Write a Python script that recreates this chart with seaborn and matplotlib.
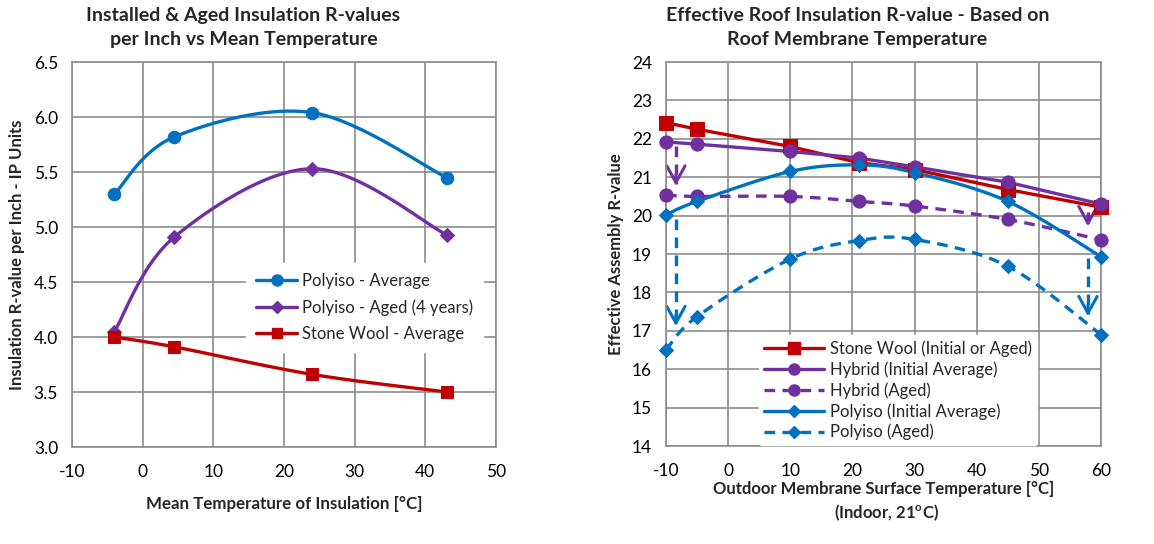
import numpy as np
import pandas as pd
import matplotlib
matplotlib.use("Agg")
import matplotlib.pyplot as plt
from matplotlib.lines import Line2D
import seaborn as sns

# ---------------- data ----------------
left_temp = [-4, 4.5, 24, 43]
polyiso_avg = [5.30, 5.82, 6.04, 5.45]
polyiso_aged4 = [4.05, 4.91, 5.53, 4.93]
stonewool_avg = [4.00, 3.91, 3.66, 3.50]

right_temp = [-10, -5, 10, 21, 30, 45, 60]
stonewool_r = [22.42, 22.25, 21.80, 21.38, 21.20, 20.68, 20.22]
hybrid_init = [21.92, 21.86, 21.67, 21.50, 21.27, 20.87, 20.30]
hybrid_aged = [20.53, 20.50, 20.50, 20.37, 20.25, 19.90, 19.37]
polyiso_init = [20.02, 20.37, 21.15, 21.32, 21.12, 20.37, 18.93]
polyiso_aged = [16.50, 17.37, 18.87, 19.35, 19.38, 18.68, 16.90]

BLUE = "#0070C0"
PURPLE = "#7030A0"
RED = "#C00000"
GRID = "#8C8C8C"

sns.set_theme(style="white")
plt.rcParams['font.family'] = ['Lato', 'DejaVu Sans']
plt.rcParams['axes.unicode_minus'] = False
plt.rcParams['mathtext.fontset'] = 'custom'
plt.rcParams['mathtext.bf'] = 'Lato:bold'
plt.rcParams['mathtext.rm'] = 'Lato'


def smooth(x, y, xlim, ylim, n=40):
    """Excel-like Catmull-Rom smoothing computed in axes-fraction space."""
    x = np.asarray(x, float); y = np.asarray(y, float)
    u = (x - xlim[0]) / (xlim[1] - xlim[0])
    v = (y - ylim[0]) / (ylim[1] - ylim[0])
    P = np.column_stack([u, v])
    P = np.vstack([P[0], P, P[-1]])
    out = []
    for i in range(1, len(P) - 2):
        p0, p1, p2, p3 = P[i - 1], P[i], P[i + 1], P[i + 2]
        c1 = p1 + (p2 - p0) / 6.0
        c2 = p2 - (p3 - p1) / 6.0
        t = np.linspace(0, 1, n)[:, None]
        seg = ((1 - t) ** 3) * p1 + 3 * ((1 - t) ** 2) * t * c1 + 3 * (1 - t) * t ** 2 * c2 + t ** 3 * p2
        out.append(seg if i == 1 else seg[1:])
    S = np.vstack(out)
    return S[:, 0] * (xlim[1] - xlim[0]) + xlim[0], S[:, 1] * (ylim[1] - ylim[0]) + ylim[0]


fig = plt.figure(figsize=(11.54, 5.44), dpi=100)
axL = fig.add_axes([0.0624, 0.1783, 0.3674, 0.7077])
axR = fig.add_axes([0.5771, 0.1801, 0.3770, 0.7059])

for ax in (axL, axR):
    ax.grid(True, color=GRID, linewidth=1.2)
    for s in ax.spines.values():
        s.set_color(GRID)
        s.set_linewidth(1.2)
    ax.tick_params(axis='both', labelsize=12.5, colors='black', length=0)
    ax.tick_params(axis='x', pad=12)
    ax.tick_params(axis='y', pad=10)
    ax.set_axisbelow(True)

# ---------------- left chart ----------------
xlimL, ylimL = (-10, 50), (3.0, 6.5)
axL.set_xlim(*xlimL); axL.set_ylim(*ylimL)
axL.set_xticks(np.arange(-10, 51, 10))
axL.set_yticks(np.arange(3.0, 6.51, 0.5))
axL.set_yticklabels([f"{v:.1f}" for v in np.arange(3.0, 6.51, 0.5)])

left_series = [
    ("Polyiso - Average", polyiso_avg, BLUE, "o", 9),
    ("Polyiso - Aged (4 years)", polyiso_aged4, PURPLE, "D", 7),
    ("Stone Wool - Average", stonewool_avg, RED, "s", 8.5),
]
handlesL = []
for lab, vals, col, mk, ms in left_series:
    sx, sy = smooth(left_temp, vals, xlimL, ylimL)
    axL.plot(sx, sy, color=col, lw=2.4, zorder=3)
    df = pd.DataFrame({"x": left_temp, "y": vals})
    sns.lineplot(data=df, x="x", y="y", ax=axL, color=col, marker=mk, markersize=ms,
                 linestyle="none", markeredgecolor=col, zorder=4, legend=False)
    handlesL.append(Line2D([], [], color=col, lw=2.4, marker=mk, markersize=ms - 1, markeredgecolor=col))
axL.set_xlabel("Mean Temperature of Insulation [°C]", fontsize=12.2, fontweight='bold', labelpad=12)
axL.set_ylabel("Insulation R-value per Inch - IP Units", fontsize=12, fontweight='bold', labelpad=6)
legL = axL.legend(handlesL, [s[0] for s in left_series], loc='upper left',
                  bbox_to_anchor=(0.39, 0.50), frameon=True, fontsize=12,
                  handlelength=2.5, labelspacing=0.62, borderpad=0.6, handletextpad=0.3)
legL.get_frame().set_facecolor('white'); legL.get_frame().set_edgecolor('white')
legL.get_frame().set_alpha(1)

fig.text(0.211, 0.988, "Installed & Aged Insulation R-values\nper Inch vs Mean Temperature",
         ha='center', va='top', fontsize=14, fontweight='bold', linespacing=1.55)

# ---------------- right chart ----------------
xlimR, ylimR = (-10, 60), (14, 24)
axR.set_xlim(*xlimR); axR.set_ylim(*ylimR)
axR.set_xticks(np.arange(-10, 61, 10))
axR.set_yticks(np.arange(14, 25, 1))

DASH = (3.2, 2.2)
right_series = [
    ("Stone Wool (Initial or Aged)", stonewool_r, RED, "s", 9.5, "-", False),
    ("Hybrid (Initial Average)", hybrid_init, PURPLE, "o", 9.5, "-", False),
    ("Hybrid (Aged)", hybrid_aged, PURPLE, "o", 9.5, "--", True),
    ("Polyiso (Initial Average)", polyiso_init, BLUE, "D", 7.5, "-", True),
    ("Polyiso (Aged)", polyiso_aged, BLUE, "D", 7.5, "--", True),
]
handlesR = []
for lab, vals, col, mk, ms, ls, sm in right_series:
    if sm:
        sx, sy = smooth(right_temp, vals, xlimR, ylimR)
    else:
        sx, sy = right_temp, vals
    line, = axR.plot(sx, sy, color=col, lw=2.4, zorder=3, clip_on=False)
    if ls == "--":
        line.set_dashes(DASH)
    df = pd.DataFrame({"x": right_temp, "y": vals})
    sns.lineplot(data=df, x="x", y="y", ax=axR, color=col, marker=mk, markersize=ms,
                 linestyle="none", markeredgecolor=col, zorder=4, legend=False, clip_on=False)
    h = Line2D([], [], color=col, lw=2.4, marker=mk, markersize=ms - 1.5, markeredgecolor=col)
    if ls == "--":
        h.set_dashes(DASH)
    handlesR.append(h)

# ageing arrows: dashed shaft + open solid head
arrows = [(-8.4, 21.8, 20.78, PURPLE), (57.9, 20.1, 19.72, PURPLE),
          (-8.4, 19.9, 17.12, BLUE), (57.9, 18.9, 17.38, BLUE)]
for ax_x, y0, y1, col in arrows:
    shaft, = axR.plot([ax_x, ax_x], [y0, y1 + 0.05], color=col, lw=2.4, zorder=2)
    shaft.set_dashes(DASH)
    axR.annotate("", xy=(ax_x, y1), xytext=(ax_x, y1 + 0.3),
                 arrowprops=dict(arrowstyle="->,head_length=1.0,head_width=0.55", color=col,
                                 lw=2.2, shrinkA=0, shrinkB=0),
                 zorder=2)

axR.set_xlabel("Outdoor Membrane Surface Temperature [°C]", fontsize=12,
               fontweight='bold', labelpad=2)
fig.text(0.768, 0.058, r"(Indoor, 21$^{\mathbf{o}}$C)", ha='center', va='center', fontsize=12,
         fontweight='bold')
axR.set_ylabel("Effective Assembly R-value", fontsize=12, fontweight='bold', labelpad=6)
legR = axR.legend(handlesR, [s[0] for s in right_series], loc='upper left',
                  bbox_to_anchor=(0.195, 0.31), frameon=True, fontsize=12,
                  handlelength=3.6, labelspacing=0.26, borderpad=0.3, handletextpad=0.35)
legR.get_frame().set_facecolor('white'); legR.get_frame().set_edgecolor('white')
legR.get_frame().set_alpha(1)
legR.set_zorder(6)

fig.text(0.743, 0.988, "Effective Roof Insulation R-value - Based on\nRoof Membrane Temperature",
         ha='center', va='top', fontsize=14, fontweight='bold', linespacing=1.55)

fig.savefig("out.png", dpi=100, facecolor='white')
